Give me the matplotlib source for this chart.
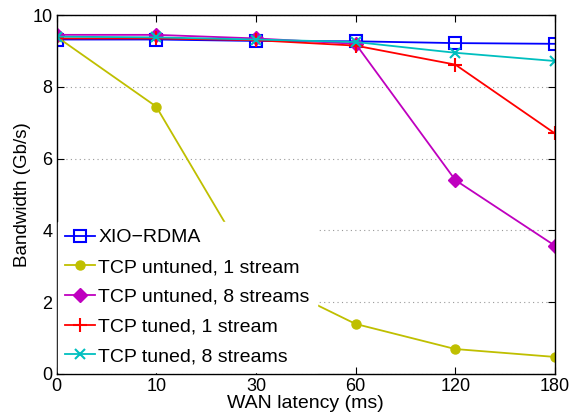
import matplotlib
matplotlib.use("Agg")
import matplotlib.pyplot as plt

# ===== DATA =====
latency_labels = ["0", "10", "30", "60", "120", "180"]
xio_rdma = [9.32, 9.32, 9.28, 9.27, 9.22, 9.20]
tcp_untuned_1 = [9.40, 7.45, 2.75, 1.39, 0.69, 0.47]
tcp_untuned_8 = [9.45, 9.45, 9.35, 9.20, 5.40, 3.57]
tcp_tuned_1 = [9.35, 9.35, 9.30, 9.15, 8.62, 6.70]
tcp_tuned_8 = [9.40, 9.38, 9.32, 9.25, 8.95, 8.72]

plt.rcParams["font.family"] = ["Liberation Sans", "DejaVu Sans"]

fig = plt.figure(figsize=(5.71, 4.2), dpi=100)
ax = fig.add_axes([0.099, 0.11, 0.873, 0.854])

x = list(range(len(latency_labels)))
lw = 1.3
ax.plot(x, xio_rdma, color=(0, 0, 1), lw=lw, marker="s", ms=9, mfc="none",
        mew=1.5, label="XIO\u2212RDMA")
ax.plot(x, tcp_untuned_1, color=(0.75, 0.75, 0), lw=lw, marker="o", ms=6.5,
        label="TCP untuned, 1 stream")
ax.plot(x, tcp_untuned_8, color=(0.75, 0, 0.75), lw=lw, marker="D", ms=7.5,
        label="TCP untuned, 8 streams")
ax.plot(x, tcp_tuned_1, color=(1, 0, 0), lw=lw, marker="+", ms=10, mew=1.5,
        label="TCP tuned, 1 stream")
ax.plot(x, tcp_tuned_8, color=(0, 0.75, 0.75), lw=lw, marker="x", ms=7.5, mew=1.5,
        label="TCP tuned, 8 streams")

ax.set_xlim(0, len(latency_labels) - 1)
ax.set_ylim(0, 10)
ax.set_xticks(x)
ax.set_xticklabels(latency_labels)
ax.set_yticks([0, 2, 4, 6, 8, 10])
ax.yaxis.grid(True, linestyle=(0, (1, 3)), color="#999999", lw=0.8)
ax.tick_params(direction="in", top=True, right=True, labelsize=13, length=5,
               pad=3)
for s in ax.spines.values():
    s.set_linewidth(1.0)

ax.set_xlabel("WAN latency (ms)", fontsize=14, labelpad=0)
ax.set_ylabel("Bandwidth (Gb/s)", fontsize=13.5, labelpad=1)

leg = ax.legend(loc="lower left", fontsize=14, frameon=True, fancybox=False,
                edgecolor="white", framealpha=1, borderaxespad=0.1,
                handlelength=1.55, handletextpad=0.15, labelspacing=0.62,
                borderpad=0.35)
leg.set_zorder(5)

fig.savefig("out.png", dpi=100)
